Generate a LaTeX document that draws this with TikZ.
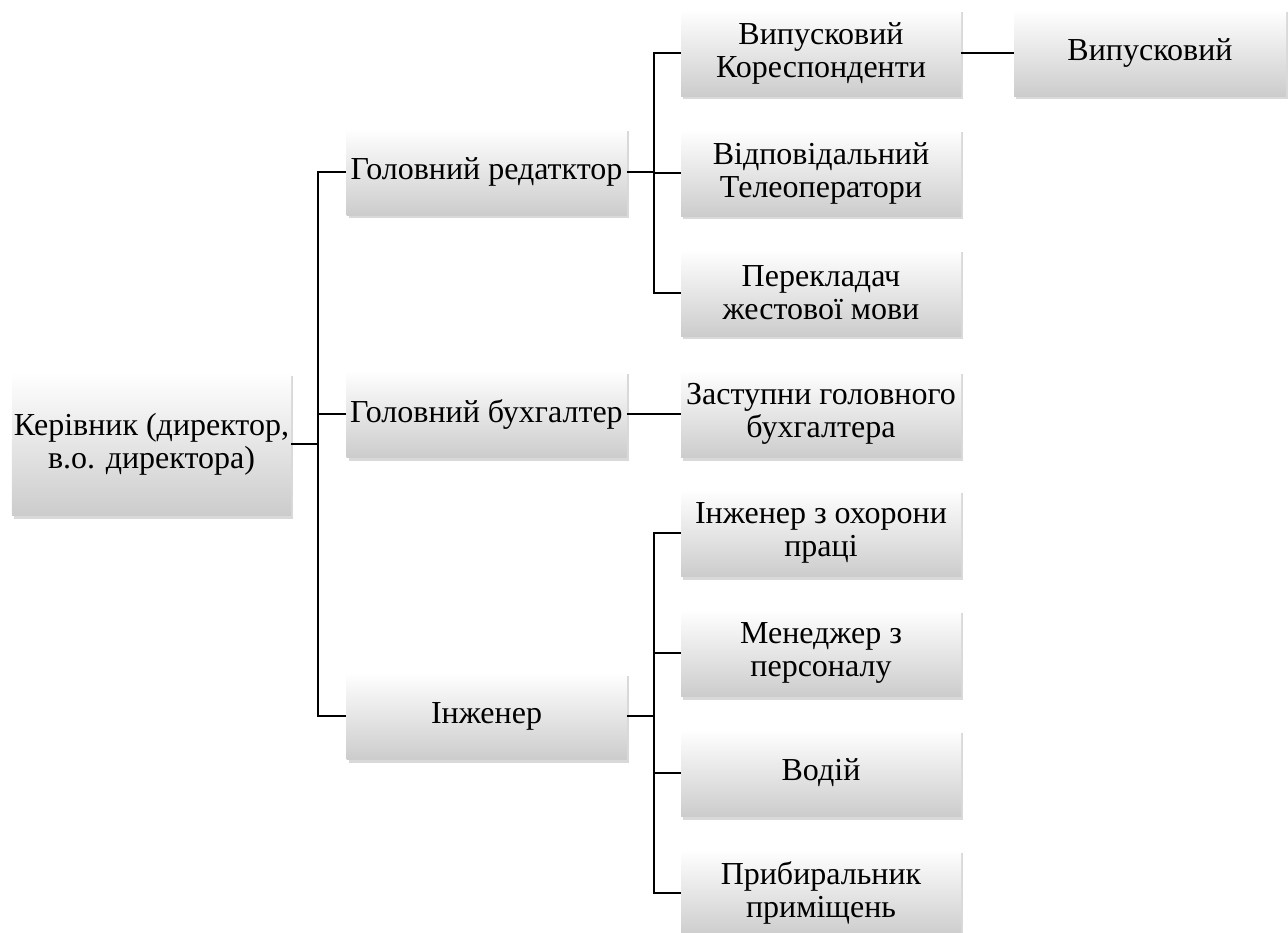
\documentclass[tikz,border=0pt]{standalone}
\usepackage{fontspec}
\setmainfont{Liberation Serif}
\usetikzlibrary{shadows}

\tikzset{
  unit/.style={rectangle, top color=white, bottom color=gray!40, minimum width=280pt, minimum height=87pt,
    align=center, inner sep=2pt, font=\rmfamily\fontsize{32}{33}\selectfont,
    drop shadow={shadow xshift=2pt, shadow yshift=-3pt, opacity=0.3}},
  link/.style={line width=1.6pt}
}

\begin{document}
\begin{tikzpicture}[x=1pt, y=-1pt]
  \useasboundingbox (0,0) rectangle (1288,933);
  % root
  \node (kerivnyk) [unit, minimum width=279pt, minimum height=143pt] at (151.5,444) {Керівник (директор,\\в.о. директора)};
  % level 1
  \node (redaktor) [unit] at (486.5,172) {Головний редатктор};
  \node (buhgalter) [unit] at (486.5,414) {Головний бухгалтер};
  \node (inzhener) [unit] at (486.5,716) {Інженер};
  % level 2
  \node (vypusk) [unit] at (821,53) {Випусковий\\Кореспонденти};
  \node (vidpov) [unit] at (821,173) {Відповідальний\\Телеоператори};
  \node (pereklad) [unit] at (821,293) {Перекладач\\жестової мови};
  \node (zastupnyk) [unit] at (821,414) {Заступни головного\\бухгалтера};
  \node (ohorona) [unit] at (821,533) {Інженер з охорони\\праці};
  \node (menedzher) [unit] at (821,653) {Менеджер з\\персоналу};
  \node (vodiy) [unit] at (821,773) {Водій};
  \node (prybyr) [unit] at (821,893) {Прибиральник\\приміщень};
  % level 3
  \node (vypusk2) [unit, minimum width=272pt] at (1150,53) {Випусковий};

  \draw [link] (kerivnyk.east) -- ++(27,0) coordinate (k1);
  \draw [link] (k1) |- (redaktor.west);
  \draw [link] (k1) |- (buhgalter.west);
  \draw [link] (k1) |- (inzhener.west);
  \draw [link] (redaktor.east) -- ++(27,0) coordinate (r1);
  \draw [link] (r1) |- (vypusk.west);
  \draw [link] (r1) |- (vidpov.west);
  \draw [link] (r1) |- (pereklad.west);
  \draw [link] (buhgalter.east) -- (zastupnyk.west);
  \draw [link] (inzhener.east) -- ++(27,0) coordinate (i1);
  \draw [link] (i1) |- (ohorona.west);
  \draw [link] (i1) |- (menedzher.west);
  \draw [link] (i1) |- (vodiy.west);
  \draw [link] (i1) |- (prybyr.west);
  \draw [link] (vypusk.east) -- (vypusk2.west);
\end{tikzpicture}
\end{document}
